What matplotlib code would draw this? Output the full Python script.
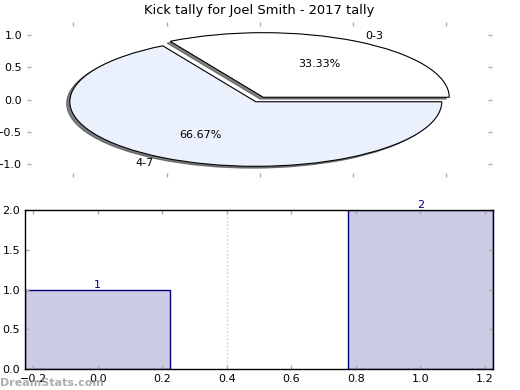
import matplotlib
matplotlib.use('Agg')
import matplotlib.pyplot as plt

# Data
slice_labels = ['0-3', '4-7']
slice_values = [1, 2]
slice_colors = ['#ffffff', '#eaf0fc']
bar_positions = [0, 1]
bar_values = [1, 2]

fig = plt.figure(figsize=(5.2, 3.9), dpi=100)
plt.rcParams['font.size'] = 8

# Pie chart (stretched, frame off, ticks kept)
ax1 = fig.add_axes([27 / 520, 1 - 177 / 390, 465 / 520, 155 / 390])
wedges, texts, autotexts = ax1.pie(
    slice_values, labels=slice_labels, colors=slice_colors,
    explode=(0.04, 0.04), autopct='%.2f%%',
    shadow={'ox': -0.012, 'oy': -0.02, 'shade': 0.7, 'alpha': 0.7},
    startangle=0,
    wedgeprops={'edgecolor': 'black', 'linewidth': 0.8},
    textprops={'fontsize': 8})
ax1.set_aspect('auto')
ax1.set_frame_on(False)
ax1.set_xlim(-1.25, 1.25)
ax1.set_ylim(-1.2, 1.2)
ax1.set_xticks([-1, -0.5, 0, 0.5, 1])
ax1.set_xticklabels([])
ax1.set_yticks([-1, -0.5, 0, 0.5, 1])
ax1.set_yticklabels(['\u22121.0', '\u22120.5', '0.0', '0.5', '1.0'])
ax1.tick_params(direction='in', color='#aaaaaa', length=3, width=1,
                top=True, right=True, labelsize=8)
ax1.set_title('Kick tally for Joel Smith - 2017 tally', fontsize=9.4, pad=6)

# Bar chart
ax2 = fig.add_axes([25 / 520, 1 - 369 / 390, 468 / 520, 159 / 390])
bars = ax2.bar(bar_positions, bar_values, width=0.45, color='#ccccE4',
               edgecolor='#000080', linewidth=1)
for bar, v in zip(bars, bar_values):
    ax2.text(bar.get_x() + bar.get_width() / 2, bar.get_height(), str(v),
             ha='center', va='bottom', color='#000080', fontsize=8)
ax2.axvline(0.4, color='#cccccc', linestyle=':', linewidth=1)
ax2.set_xlim(-0.225, 1.225)
ax2.set_ylim(0, 2)
ax2.set_xticks([-0.2, 0, 0.2, 0.4, 0.6, 0.8, 1.0, 1.2])
ax2.set_yticks([0, 0.5, 1.0, 1.5, 2.0])
ax2.tick_params(direction='in', color='#aaaaaa', length=3, width=1,
                top=True, right=True, labelsize=8)
for s in ax2.spines.values():
    s.set_linewidth(1)

# Watermark
fig.text(0.0, 0.01, 'DreamStats.com', color='#999999', fontsize=8,
         fontweight='bold', alpha=0.8, ha='left', va='baseline')

fig.savefig('out.png', dpi=100)
